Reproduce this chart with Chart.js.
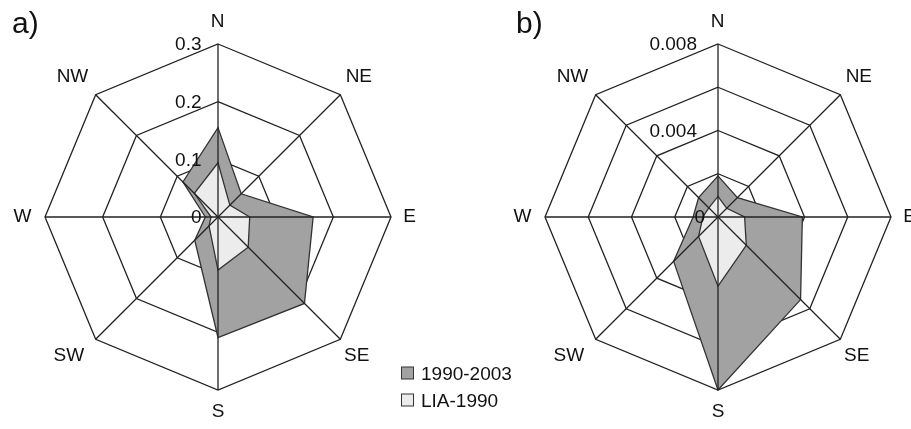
<!DOCTYPE html>
<html><head><meta charset="utf-8">
<script src="https://cdn.jsdelivr.net/npm/chart.js@4.4.1/dist/chart.umd.min.js"></script>
<style>
html,body{margin:0;padding:0;background:#fff;}
#wrap{position:relative;width:911px;height:429px;overflow:hidden;background:#fff;}
canvas{position:absolute;left:0;top:0;}
</style></head><body>
<div id="wrap"><canvas id="ca" width="911" height="429"></canvas><canvas id="cb" width="911" height="429"></canvas></div>
<script>
// ---- data ----
const directions = ['N', 'NE', 'E', 'SE', 'S', 'SW', 'W', 'NW'];
const seriesNames = ['1990-2003', 'LIA-1990'];
const panelTitles = ['a)', 'b)'];

// panel a
const a_recent = [0.155, 0.057, 0.165, 0.212, 0.209, 0.057, 0.022, 0.086];
const a_lia    = [0.094, 0.029, 0.055, 0.074, 0.092, 0.022, 0.012, 0.058];
const a_tickValues = [0, 0.1, 0.2, 0.3];
const a_tickLabels = ['0', '0.1', '0.2', '0.3'];

// panel b
const b_recent = [0.0019, 0.00127, 0.0039, 0.0054, 0.008, 0.0029, 0.00115, 0.00127];
const b_lia    = [0.00095, 0.00057, 0.00123, 0.00185, 0.0032, 0.00127, 0.0007, 0.0006];
const b_tickValues = [0, 0.002, 0.004, 0.006, 0.008];
const b_tickLabels = ['0', '', '0.004', '', '0.008'];

// ---- styles ----
const DARK = '#a2a2a2', LIGHT = '#ececec', EDGE = '#333333', GRID = '#222222';
const FONT = '"Liberation Sans", Arial, sans-serif';
const labelOffsets = [[-0.5,-22.3],[18.5,-18],[18.7,0],[16.4,16.2],[0,21.7],[-26.9,16.2],[-22.5,0],[-23.2,-18]];

const overlay = {
  id: 'overlay',
  afterDatasetsDraw(chart, args, opts) {
    const ctx = chart.ctx, s = chart.scales.r;
    const n = chart.data.labels.length;
    ctx.save();
    // spokes on top of the fills
    ctx.strokeStyle = GRID; ctx.lineWidth = 1.3;
    for (let i = 0; i < n; i++) {
      const p = s.getPointPosition(i, s.drawingArea);
      ctx.beginPath(); ctx.moveTo(s.xCenter, s.yCenter); ctx.lineTo(p.x, p.y); ctx.stroke();
    }
    // tick labels
    ctx.fillStyle = '#111';
    ctx.font = '19px ' + FONT;
    ctx.textAlign = 'right'; ctx.textBaseline = 'middle';
    opts.tickValues.forEach((v, k) => {
      const lbl = opts.tickLabels[k];
      if (!lbl) return;
      const d = s.getDistanceFromCenterForValue(v);
      ctx.fillText(lbl, s.xCenter - opts.tickGaps[k], s.yCenter - d + 1);
    });
    // point labels
    ctx.textAlign = 'center';
    chart.data.labels.forEach((lbl, i) => {
      const p = s.getPointPosition(i, s.drawingArea);
      ctx.fillText(lbl, p.x + labelOffsets[i][0], p.y + labelOffsets[i][1]);
    });
    // panel letter
    ctx.font = '30px ' + FONT;
    ctx.textAlign = 'left'; ctx.textBaseline = 'alphabetic';
    ctx.fillText(opts.title, opts.titleX, 33);
    // legend
    if (opts.legend) {
      const ds = chart.data.datasets.slice().sort((x, y) => y.order - x.order);
      ctx.font = '19px ' + FONT;
      ctx.textBaseline = 'middle';
      ds.forEach((d, k) => {
        const y = 373.5 + k * 27;
        ctx.fillStyle = d.backgroundColor;
        ctx.fillRect(401.5, y - 6.5, 12, 12);
        ctx.strokeStyle = '#333'; ctx.lineWidth = 1;
        ctx.strokeRect(401.5, y - 6.5, 12, 12);
        ctx.fillStyle = '#111';
        ctx.fillText(d.label, 421, y + 1);
      });
    }
    ctx.restore();
  }
};

function makeChart(id, recent, lia, max, step, pad, ov) {
  return new Chart(document.getElementById(id), {
    type: 'radar',
    data: {
      labels: directions,
      datasets: [
        { label: seriesNames[0], data: recent, order: 2, backgroundColor: DARK, borderColor: EDGE, borderWidth: 1.3, fill: true, pointRadius: 0, tension: 0 },
        { label: seriesNames[1], data: lia, order: 1, backgroundColor: LIGHT, borderColor: EDGE, borderWidth: 1.3, fill: true, pointRadius: 0, tension: 0 }
      ]
    },
    options: {
      responsive: false, animation: false, devicePixelRatio: 1,
      layout: { padding: pad },
      plugins: { legend: { display: false }, tooltip: { enabled: false }, overlay: ov },
      scales: {
        r: {
          min: 0, max: max,
          ticks: { display: false, stepSize: step },
          pointLabels: { display: false },
          angleLines: { display: false },
          grid: { color: GRID, lineWidth: 1.3 }
        }
      }
    },
    plugins: [overlay]
  });
}

makeChart('ca', a_recent, a_lia, 0.3, 0.1, { left: 45, top: 44, right: 520, bottom: 39 },
  { tickValues: a_tickValues, tickLabels: a_tickLabels, tickGaps: [16.5, 16.5, 16.5, 16.5], title: panelTitles[0], titleX: 12, legend: true });
makeChart('cb', b_recent, b_lia, 0.008, 0.002, { left: 545, top: 44, right: 20, bottom: 39 },
  { tickValues: b_tickValues, tickLabels: b_tickLabels, tickGaps: [13, 21, 21, 21, 21], title: panelTitles[1], titleX: 516, legend: false });
</script>
</body></html>
